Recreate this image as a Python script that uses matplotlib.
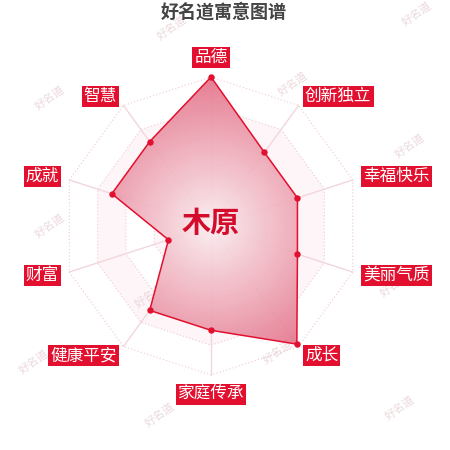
import numpy as np
import matplotlib
matplotlib.use("Agg")
import matplotlib.pyplot as plt
from matplotlib import colors
from matplotlib.patches import Polygon

plt.rcParams['font.family'] = ['Noto Sans CJK SC', 'DejaVu Sans']

# chart data
title = "好名道寓意图谱"
name = "木原"
categories = ["品德", "创新独立", "幸福快乐", "美丽气质", "成长",
              "家庭传承", "健康平安", "财富", "成就", "智慧"]
values = [100, 61, 61, 61, 98, 70, 70, 30, 70, 70]
max_value = 100
levels = 5

# layout in pixel units
cx, cy, R = 211, 226, 149
red = '#e2102e'

fig = plt.figure(figsize=(4.5, 4.5), dpi=100)
ax = fig.add_axes([0, 0, 1, 1])
ax.set_xlim(0, 450)
ax.set_ylim(450, 0)
ax.axis('off')

n = len(categories)
theta = np.arange(n) * 2 * np.pi / n


def to_xy(r, th):
    return cx + r * np.sin(th), cy - r * np.cos(th)


# split areas (outer to inner so inner covers)
band_cols = ['#fdf5f7', '#ffffff']
for k in range(levels, 0, -1):
    rx, ry = to_xy(R * k / levels, theta)
    ax.add_patch(Polygon(np.column_stack([rx, ry]), closed=True,
                         facecolor=band_cols[k % 2], edgecolor='none', zorder=1))
    ax.add_patch(Polygon(np.column_stack([rx, ry]), closed=True, fill=False,
                         edgecolor='#efc9d1', lw=0.8, ls=(0, (1, 2)), zorder=2))

# axis lines
for th in theta:
    ex, ey = to_xy(R, th)
    ax.plot([cx, ex], [cy, ey], color='#f2d6dc', lw=1.0, zorder=2)

# data polygon with radial gradient
r_vals = np.array(values) / max_value * R
px, py = to_xy(r_vals, theta)
pts = np.column_stack([px, py])

grad = colors.LinearSegmentedColormap.from_list(
    'g', [(0, '#fbeef1'), (0.4, '#f2bcc7'), (0.7, '#eb98a9'), (1, '#e4728a')])
gx, gy = np.meshgrid(np.linspace(0, 450, 450), np.linspace(0, 450, 450))
dist = np.hypot(gx - cx, gy - cy) / R
img = ax.imshow(dist, cmap=grad, vmin=0, vmax=1, extent=(0, 450, 450, 0),
                alpha=0.92, zorder=3, interpolation='bilinear')
clip = Polygon(pts, closed=True, facecolor='none', edgecolor='none',
               transform=ax.transData)
ax.add_patch(clip)
img.set_clip_path(clip)
ax.set_xlim(0, 450)
ax.set_ylim(450, 0)

ax.add_patch(Polygon(pts, closed=True, fill=False, edgecolor=red, lw=1.1, zorder=4))
ax.plot(px, py, 'o', color=red, ms=3.6, zorder=5)

# category labels
lab_r = R + 11
for cat, th in zip(categories, theta):
    lx, ly = to_xy(lab_r, th)
    s = np.sin(th)
    c = np.cos(th)
    if abs(s) < 0.1:
        ha = 'center'
        va = 'bottom' if c > 0 else 'top'
    else:
        ha = 'left' if s > 0 else 'right'
        va = 'center'
    ax.text(lx, ly, cat, fontsize=12, color='white', ha=ha, va=va, zorder=6,
            bbox=dict(boxstyle='square,pad=0.12', facecolor=red, edgecolor='none'))

# centre name
ax.text(cx, cy - 3, name, fontsize=21, fontweight='bold', color='#d40c2c',
        ha='center', va='center', zorder=7)

# title
ax.text(224, 12, title, fontsize=13, fontweight='bold', color='#444444',
        ha='center', va='center', zorder=7)

# watermarks
marks = [(172, 28), (417, 14), (50, 98), (293, 84), (410, 146), (50, 226),
         (150, 296), (34, 362), (278, 352), (160, 415), (400, 408), (395, 285)]
for mx, my in marks:
    ax.text(mx, my, "好名道", fontsize=8, color='#e6cfd3', rotation=35,
            ha='center', va='center', zorder=2.5, alpha=0.8)

fig.savefig('out.png', dpi=100)
